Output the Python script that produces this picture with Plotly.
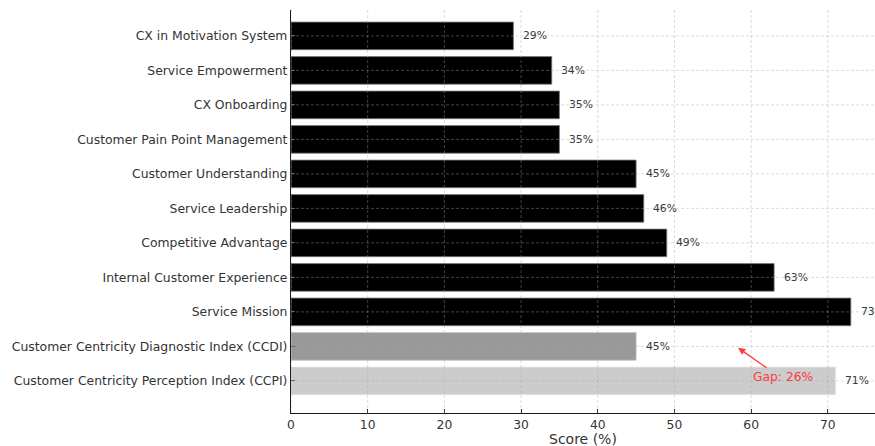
import plotly.graph_objects as go

# Scores per dimension, listed bottom-to-top as they appear on the axis
categories = [
    "Customer Centricity Perception Index (CCPI)",
    "Customer Centricity Diagnostic Index (CCDI)",
    "Service Mission",
    "Internal Customer Experience",
    "Competitive Advantage",
    "Service Leadership",
    "Customer Understanding",
    "Customer Pain Point Management",
    "CX Onboarding",
    "Service Empowerment",
    "CX in Motivation System",
]
scores = [71, 45, 73, 63, 49, 46, 45, 35, 35, 34, 29]
x_ticks = [0, 10, 20, 30, 40, 50, 60, 70]
gap_label = "Gap: 26%"
x_title = "Score (%)"

# Styling
FONT = "DejaVu Sans, Verdana, sans-serif"
fill_colors = ["#cccccc", "#999999"] + ["#000000"] * (len(categories) - 2)
edge_colors = ["#e2e2e2", "#c4c4c4"] + ["#7a7a7a"] * (len(categories) - 2)
GRID = "rgba(165,165,165,0.4)"

fig = go.Figure()
fig.add_trace(go.Bar(
    x=scores,
    y=categories,
    orientation="h",
    width=0.8,
    marker=dict(color=fill_colors, line=dict(color=edge_colors, width=0.8)),
    hoverinfo="x+y",
))

# Value labels just past the end of each bar
for cat, val in zip(categories, scores):
    fig.add_annotation(
        x=val + 1, y=cat, text=f"{val}%", showarrow=False,
        xanchor="left", yanchor="middle",
        font=dict(family=FONT, size=10.8, color="#3a3a3a"),
    )

# Dashed grid drawn on top of the bars
shapes = []
for t in x_ticks:
    shapes.append(dict(type="line", xref="x", yref="paper", x0=t, x1=t, y0=0, y1=1,
                       line=dict(color=GRID, width=1, dash="3px,2px"), layer="above"))
for cat in categories:
    shapes.append(dict(type="line", xref="paper", yref="y", x0=0, x1=1, y0=cat, y1=cat,
                       line=dict(color=GRID, width=1, dash="3px,2px"), layer="above"))
fig.update_layout(shapes=shapes)

# Gap callout between the two indices
gap_idx_ccdi = categories.index("Customer Centricity Diagnostic Index (CCDI)")
fig.add_annotation(
    x=58.3, y=gap_idx_ccdi - 0.04, ax=62.2, ay=0.35,
    xref="x", yref="y", axref="x", ayref="y",
    text="", showarrow=True, arrowhead=2, arrowsize=1.1, arrowwidth=1.3,
    arrowcolor="#ff3b3b",
)
fig.add_annotation(
    x=60, y=0.1, text=gap_label, showarrow=False,
    xanchor="left", yanchor="middle",
    font=dict(family=FONT, size=12.3, color="#ff3b3b"),
)

# X-axis title, placed just under the tick labels
fig.add_annotation(
    x=0.5, y=0, xref="paper", yref="paper", yshift=-26,
    text=x_title, showarrow=False, xanchor="center", yanchor="middle",
    borderpad=0,
    font=dict(family=FONT, size=14, color="#333333"),
)

fig.update_layout(
    width=875, height=446,
    margin=dict(l=291, r=0, t=10, b=33),
    paper_bgcolor="white", plot_bgcolor="white",
    showlegend=False,
    font=dict(family=FONT, color="#333333"),
    xaxis=dict(
        range=[0, 76.15], tickvals=x_ticks, showgrid=False, zeroline=False,
        showline=True, linecolor="#1a1a1a", linewidth=1.2,
        ticks="inside", ticklen=4, tickcolor="#1a1a1a",
        tickfont=dict(family=FONT, size=12.3, color="#333333"),
    ),
    yaxis=dict(
        type="category", categoryorder="array", categoryarray=categories,
        range=[-0.93, 10.75], showgrid=False, zeroline=False,
        showline=True, linecolor="#1a1a1a", linewidth=1.2,
        ticks="inside", ticklen=4, tickcolor="#555555",
        tickfont=dict(family=FONT, size=12.4, color="#333333"),
    ),
)

fig.write_html("out.html")
